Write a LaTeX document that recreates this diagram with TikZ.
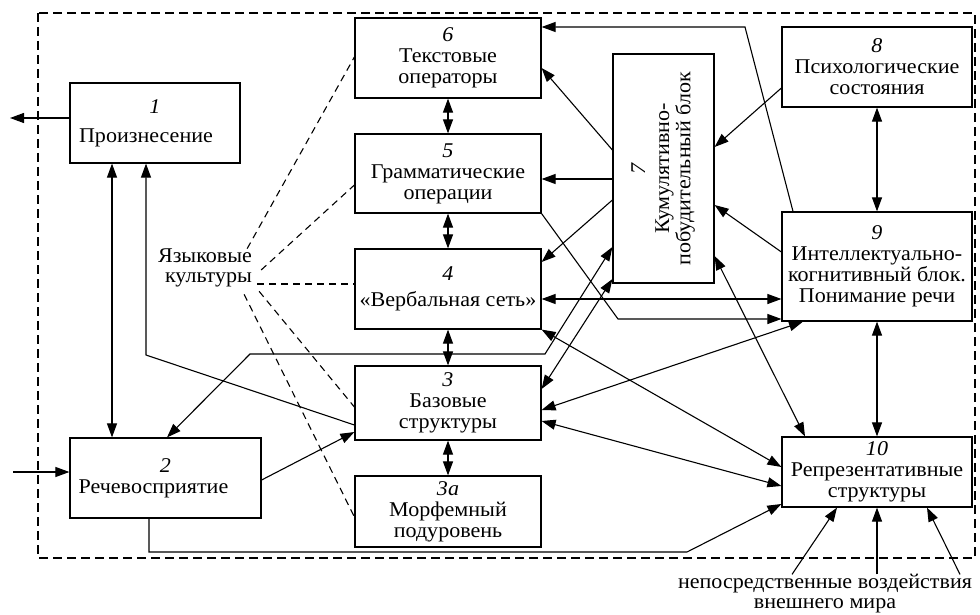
\documentclass[tikz,border=0pt]{standalone}
\usepackage{fontspec}
\setmainfont{Liberation Serif}[FakeStretch=1.05]
\usepackage{graphicx}
\usetikzlibrary{arrows.meta, calc}

\begin{document}
\begin{tikzpicture}[x=1pt, y=-1pt,
    blk/.style={rectangle, draw, line width=1.2pt, align=center, inner sep=1pt,
                font=\fontsize{21}{21}\selectfont},
    txt/.style={inner sep=0pt, font=\fontsize{21}{20}\selectfont},
    arr/.style={-{Triangle[length=14pt,width=10pt]}, line width=1.1pt},
    darr/.style={{Triangle[length=14pt,width=10pt]}-{Triangle[length=14pt,width=10pt]},
                 line width=1.1pt},
    lang/.style={dash pattern=on 7pt off 5pt, line width=1.1pt},
  ]
    \useasboundingbox (0,0) rectangle (980,615);
    \draw[dash pattern=on 9pt off 5pt, line width=1.2pt] (38,13) rectangle (975,558);

    \node[blk, minimum width=170, minimum height=80] (proizn) at (155,123)
      {\itshape 1\\[8pt]Произнесение\hspace*{18pt}};
    \node[blk, minimum width=191, minimum height=80] (rech) at (165.5,478)
      {\itshape 2\\Речевосприятие\hspace*{24pt}};
    \node[blk, minimum width=186, minimum height=80] (tekst) at (448,58)
      {\itshape 6\\Текстовые\\операторы};
    \node[blk, minimum width=186, minimum height=79] (gram) at (448,173.5)
      {\itshape 5\\Грамматические\\операции};
    \node[blk, minimum width=186, minimum height=80] (verb) at (448,289)
      {\itshape 4\\[5pt]«Вербальная сеть»};
    \node[blk, minimum width=186, minimum height=74] (baz) at (448,403)
      {\itshape 3\\Базовые\\структуры};
    \node[blk, minimum width=186, minimum height=71] (morf) at (448,511.5)
      {\itshape 3а\\Морфемный\\подуровень};
    \node[blk, minimum width=101, minimum height=229] (kum) at (663.5,168.5)
      {\rotatebox{90}{\begin{tabular}{@{}c@{}}\itshape 7\\[3pt]Кумулятивно-\\побудительный блок\end{tabular}}};
    \node[blk, minimum width=190, minimum height=80] (psy) at (877,67)
      {\itshape 8\\Психологические\\состояния};
    \node[blk, minimum width=190, minimum height=109] (intel) at (877,266.5)
      {\itshape 9\\Интеллектуально-\\когнитивный блок.\\Понимание речи};
    \node[blk, minimum width=190, minimum height=70] (repr) at (877,472)
      {\itshape 10\\Репрезентативные\\структуры};
    \node[txt, align=right] (yaz) at (205,268) {Языковые\\культуры};
    \node[txt, align=center] (mir) at (825,594)
      {непосредственные воздействия\\внешнего мира};
    \coordinate (vyhod) at (10,118);
    \coordinate (vhod) at (13,472);

    \draw[arr] (proizn.west |- 0,118) -- (vyhod);
    \draw[arr] (vhod) -- (rech.west |- 0,472);
    \draw[darr] (proizn.south -| 112,0) -- (rech.north -| 112,0);
    \draw[arr] (baz.west |- 0,425) -- (146,355) -- (proizn.south -| 146,0);
    \draw[darr] (rech.north -| 167,0) -- (250,354) -- (545,354) -- (kum.west |- 0,247);
    \draw[arr] (rech.east |- 0,480) -- (baz.west |- 0,432);
    \draw[arr] (rech.south -| 149,0) -- (149,552) -- (687,552) -- (repr.west |- 0,504);

    \draw[darr] (tekst.south) -- (gram.north);
    \draw[darr] (gram.south) -- (verb.north);
    \draw[darr] (verb.south) -- (baz.north);
    \draw[darr] (baz.south) -- (morf.north);

    \draw[arr] (kum.west |- 0,150) -- (tekst.east |- 0,68);
    \draw[arr] (kum.west |- 0,179) -- (gram.east |- 0,179);
    \draw[arr] (kum.west |- 0,200) -- (verb.east |- 0,262);
    \draw[darr] (baz.east |- 0,389) -- (kum.west |- 0,279);
    \draw[arr] (psy.west |- 0,88) -- (kum.east |- 0,147);
    \draw[arr] (intel.west |- 0,252) -- (kum.east |- 0,205);
    \draw[arr] (intel.north -| 793,0) -- (745,27) -- (tekst.east |- 0,27);
    \draw[darr] (psy.south) -- (intel.north);
    \draw[darr] (intel.south) -- (repr.north);
    \draw[darr] (verb.east |- 0,299) -- (intel.west |- 0,299);
    \draw[arr] (gram.south east) -- (618,319) -- (intel.west |- 0,319);
    \draw[darr] (baz.east |- 0,410) -- (intel.south -| 803,0);
    \draw[darr] (verb.south east) -- (repr.west |- 0,467);
    \draw[darr] (baz.east |- 0,421) -- (repr.west |- 0,486);
    \draw[darr] (kum.east |- 0,256) -- (repr.north -| 805,0);

    \draw[arr] (mir.north -| 792,0) -- (repr.south -| 837,0);
    \draw[arr] (mir.north -| 877,0) -- (repr.south);
    \draw[arr] (mir.north -| 960,0) -- (repr.south -| 927,0);

    \draw[lang] ($(yaz.north east)+(-5,0)$) -- (tekst.west |- 0,57);
    \draw[lang] ($(yaz.east)+(9,2)$) -- (gram.west |- 0,185);
    \draw[lang] ($(yaz.east)+(5,16)$) -- (verb.west |- 0,284);
    \draw[lang] ($(yaz.south east)+(7,4)$) -- (baz.west |- 0,407);
    \draw[lang] ($(yaz.south east)+(-8,7)$) -- (morf.west |- 0,517);
  \end{tikzpicture}
\end{document}
